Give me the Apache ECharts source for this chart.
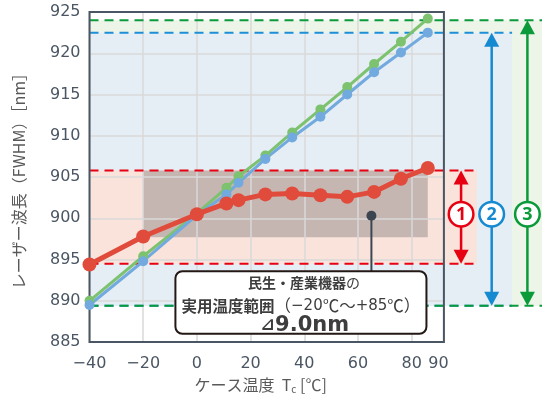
<!DOCTYPE html>
<html><head><meta charset="utf-8">
<script src="https://cdn.jsdelivr.net/npm/echarts@6/dist/echarts.min.js"></script>
<style>html,body{margin:0;padding:0;background:#fff}#c{width:542px;height:399px}</style>
</head><body><div id="c"></div>
<script>
// ---- data ----
const temps = [-40, -20, 0, 11, 15.5, 25.5, 35.5, 46, 56, 66, 76, 86];
const redSeries   = [894.4, 897.8, 900.5, 901.8, 902.2, 902.9, 903.0, 902.8, 902.6, 903.2, 904.8, 906.1];
const greenSeries = [890.0, 895.4, 900.6, 903.7, 905.1, 907.6, 910.4, 913.2, 915.9, 918.7, 921.4, 924.2];
const blueSeries  = [889.5, 894.8, 900.4, 902.9, 904.3, 907.2, 909.8, 912.3, 915.0, 917.7, 920.1, 922.5];
const xTickLabels = [-40, -20, 0, 20, 40, 60, 80, 90];
const yTickLabels = [885, 890, 895, 900, 905, 910, 915, 920, 925];

// reference levels (nm)
const levelGreenTop = 924.0;
const levelBlueTop = 922.5;
const levelRedTop = 905.8;
const levelRedBottom = 894.5;
const levelBottom = 889.4;
const grayBoxX = [-20, 86];
const grayBoxY = [897.7, 905.8];
// annotation positions in data units
const redBandEnd = 104.3, blueBandEnd = 117.4;
const arrowX = [98.4, 109.8, 123.1];
const arrowLabelY = 900.5;
const calloutBoxX = [-8, 85.5], calloutBoxY = [893.6, 886.0];
const leaderDot = [65, 900.3];

const C_RED = '#e04b3b', C_GREEN = '#7cc26f', C_BLUE = '#72aadf';
const AX = '#4a5663';
const JP = '"Noto Sans CJK JP", "Noto Sans", sans-serif';
const NUM = '"DejaVu Sans", sans-serif';

const chart = echarts.init(document.getElementById('c'), null, {renderer: 'canvas'});
const fmtNum = v => String(v).replace('-', '\u2212');

chart.setOption({
  animation: false,
  grid: {left: 89.5, right: 98.1, top: 12, bottom: 56},
  xAxis: [{
    type: 'value', min: -40, max: 92, interval: 10, z: 1,
    axisLine: {show: false}, axisTick: {show: false}, splitLine: {show: false},
    axisLabel: {interval: 0, margin: 14, fontSize: 16, color: AX, fontFamily: NUM,
      formatter: v => xTickLabels.includes(v) ? fmtNum(v) : ''},
    name: '{a|ケース温度  T}{s|c}{a| [℃]}', nameLocation: 'middle', nameGap: 33,
    nameTextStyle: {padding: [0, 12, 0, 0], rich: {
      a: {fontSize: 16, color: '#595959', fontFamily: JP},
      s: {fontSize: 10, color: '#595959', fontFamily: JP, padding: [8, 0, 0, 0]}}}
  }, {
    type: 'value', min: -40, max: 92, interval: 20, position: 'top', z: 1,
    axisLine: {show: false}, axisTick: {show: false}, axisLabel: {show: false},
    splitLine: {show: true, lineStyle: {color: '#d8d8d8', width: 1.5}}
  }],
  yAxis: {
    type: 'value', min: yTickLabels[0], max: yTickLabels[yTickLabels.length - 1], interval: 5, z: 1,
    axisLine: {show: false}, axisTick: {show: false},
    splitLine: {show: true, lineStyle: {color: '#d8d8d8', width: 1.5}},
    axisLabel: {margin: 9, fontSize: 16, color: AX, fontFamily: NUM, padding: [10, 0, 0, 0]},
    name: 'レーザー波長（FWHM）［nm］', nameLocation: 'middle', nameGap: 63,
    nameTextStyle: {fontSize: 16, color: '#595959', fontFamily: JP}
  },
  series: [
    {type: 'line', name: 'green', data: temps.map((t, i) => [t, greenSeries[i]]), symbol: 'circle', symbolSize: 10,
     lineStyle: {width: 3, color: C_GREEN}, itemStyle: {color: C_GREEN}, z: 2},
    {type: 'line', name: 'blue', data: temps.map((t, i) => [t, blueSeries[i]]), symbol: 'circle', symbolSize: 10,
     lineStyle: {width: 3, color: C_BLUE}, itemStyle: {color: C_BLUE}, z: 2},
    {type: 'line', name: 'red', data: temps.map((t, i) => [t, redSeries[i]]), symbol: 'circle', symbolSize: 14,
     lineStyle: {width: 5, color: C_RED}, itemStyle: {color: C_RED}, z: 3}
  ]
});

const P = (x, y) => chart.convertToPixel({seriesIndex: 0}, [x, y]);
const W = chart.getWidth();
const g = [];
function rect(x0, y0, x1, y1, fill, z) {
  const a = P(x0, y0), b = P(x1, y1);
  g.push({type: 'rect', z: z, silent: true,
    shape: {x: Math.min(a[0], b[0]), y: Math.min(a[1], b[1]), width: Math.abs(b[0] - a[0]), height: Math.abs(b[1] - a[1])},
    style: {fill: fill}});
}
function rectPx(x0, y0, x1, y1, fill, z) {
  g.push({type: 'rect', z: z, silent: true, shape: {x: x0, y: y0, width: x1 - x0, height: y1 - y0}, style: {fill: fill}});
}
function dash(y, x0, x1px, color, z) {
  const a = P(x0, y);
  g.push({type: 'line', z: z, silent: true, shape: {x1: a[0], y1: a[1], x2: x1px, y2: a[1]},
    style: {stroke: color, lineWidth: 2, lineDash: [9, 6]}});
}
const left = P(-40, 925)[0];
const yGT = P(0, levelGreenTop)[1], yBT = P(0, levelBlueTop)[1], yRT = P(0, levelRedTop)[1],
      yRB = P(0, levelRedBottom)[1], yB = P(0, levelBottom)[1];
const xRedEnd = P(redBandEnd, 900)[0], xBlueEnd = P(blueBandEnd, 900)[0];

// bands
rectPx(left, yGT, W, yB, '#edf5e8', 0);
rectPx(left, yBT, xBlueEnd, yB, '#e5edf5', 0.1);
rectPx(left, yRT, xRedEnd, yRB, '#f9e3db', 0.2);
rect(grayBoxX[0], grayBoxY[1], grayBoxX[1], grayBoxY[0], '#c6b6b2', 0.3);

// dashed lines
dash(levelRedTop, -40, xRedEnd, '#e60012', 1.5);
dash(levelRedBottom, -40, xRedEnd, '#e60012', 1.5);
dash(levelBlueTop, -40, xBlueEnd, '#1d8fd6', 1.5);
dash(levelBottom, -40, xBlueEnd, '#1d8fd6', 1.5);
dash(levelGreenTop, -40, W, '#0b9a3b', 1.55);
dash(levelBottom, -40, W, '#0b9a3b', 1.55);

// frame
const f0 = P(-40, 925), f1 = P(92, 885);
g.push({type: 'rect', z: 1.6, silent: true, shape: {x: f0[0], y: f0[1], width: f1[0] - f0[0], height: f1[1] - f0[1]},
  style: {fill: 'none', stroke: AX, lineWidth: 2}});

// arrows
const arrowDefs = [
  {x: arrowX[0], top: yRT, bot: yRB, color: '#e60012', label: '1'},
  {x: arrowX[1], top: yBT, bot: yB, color: '#168ad0', label: '2'},
  {x: arrowX[2], top: yGT, bot: yB, color: '#0a9a3a', label: '3'}
];
const cy = P(0, arrowLabelY)[1];
arrowDefs.forEach(a => {
  const x = P(a.x, 900)[0];
  const hw = 7.5, hh = 14;
  g.push({type: 'line', z: 5, silent: true, shape: {x1: x, y1: a.top + hh - 2, x2: x, y2: a.bot - hh + 2},
    style: {stroke: a.color, lineWidth: 2.5}});
  g.push({type: 'polygon', z: 5, silent: true, shape: {points: [[x, a.top], [x - hw, a.top + hh], [x + hw, a.top + hh]]}, style: {fill: a.color}});
  g.push({type: 'polygon', z: 5, silent: true, shape: {points: [[x, a.bot], [x - hw, a.bot - hh], [x + hw, a.bot - hh]]}, style: {fill: a.color}});
  g.push({type: 'circle', z: 5.1, silent: true, shape: {cx: x, cy: cy, r: 12.3}, style: {fill: '#fff', stroke: a.color, lineWidth: 2.5}});
  g.push({type: 'text', z: 5.2, silent: true, style: {text: a.label, x: x, y: cy + 1, align: 'center', verticalAlign: 'middle',
    fill: a.color, fontSize: 18, fontWeight: 'bold', fontFamily: '"Noto Sans", sans-serif'}});
});

// callout
const b0 = P(calloutBoxX[0], calloutBoxY[0]), b1 = P(calloutBoxX[1], calloutBoxY[1]);
const d = P(leaderDot[0], leaderDot[1]);
g.push({type: 'line', z: 5, silent: true, shape: {x1: d[0], y1: d[1], x2: d[0], y2: b0[1]}, style: {stroke: '#3c4650', lineWidth: 2}});
g.push({type: 'circle', z: 5, silent: true, shape: {cx: d[0], cy: d[1], r: 5}, style: {fill: '#3c4650'}});
g.push({type: 'rect', z: 5.3, silent: true, shape: {x: b0[0], y: b0[1], width: b1[0] - b0[0], height: b1[1] - b0[1], r: 7},
  style: {fill: '#fff', stroke: '#231815', lineWidth: 2}});
const bcx = (b0[0] + b1[0]) / 2;
const TXT = '#3d3d3d';
const richT = {
  b: {fontSize: 14, fontWeight: 'bold', fill: TXT, fontFamily: JP},
  n: {fontSize: 14, fontWeight: 'normal', fill: TXT, fontFamily: JP},
  b2: {fontSize: 15.5, fontWeight: 'bold', fill: TXT, fontFamily: JP},
  n2: {fontSize: 16.5, fontWeight: 'normal', fill: TXT, fontFamily: JP},
  dg: {fontSize: 15, fontWeight: 'normal', fill: TXT, fontFamily: '"DejaVu Sans", sans-serif'},
  t: {fontSize: 17, fontWeight: 'bold', fill: TXT, fontFamily: '"DejaVu Sans", sans-serif'},
  v: {fontSize: 21, fontWeight: 'bold', fill: TXT, fontFamily: '"DejaVu Sans", sans-serif'}
};
g.push({type: 'text', z: 5.4, silent: true, style: {text: '{b|民生・産業機器}{n|の}', x: bcx + 3, y: b0[1] + 12, align: 'center', verticalAlign: 'middle', rich: richT}});
g.push({type: 'text', z: 5.4, silent: true, style: {text: '{b2|実用温度範囲}{n2|（}{dg|−20}{n2|℃～}{dg|+85}{n2|℃）}', x: bcx, y: b0[1] + 34.5, align: 'center', verticalAlign: 'middle', rich: richT}});
g.push({type: 'text', z: 5.4, silent: true, style: {text: '{t|⊿}{v|9.0nm}', x: bcx + 4, y: b0[1] + 54, align: 'center', verticalAlign: 'middle', rich: richT}});

chart.setOption({graphic: {elements: g}});
</script>
</body></html>
